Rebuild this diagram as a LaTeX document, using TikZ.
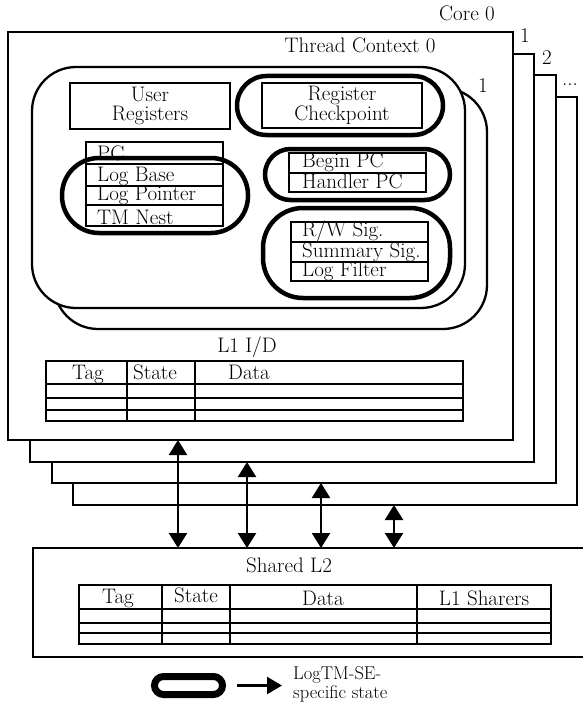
\documentclass[tikz,border=0pt]{standalone}
\usetikzlibrary{arrows.meta}
\begin{document}
\begin{tikzpicture}[x=1pt,y=-1pt,
  font=\fontsize{21}{18}\selectfont,
  frame/.style={draw, line width=2.3pt, fill=white, inner sep=0pt, outer sep=0pt, anchor=north west},
  tcbox/.style={frame, rounded corners=44pt},
  box/.style={draw, line width=2.3pt, inner sep=0pt, outer sep=0pt, anchor=north west, align=center},
  twoline/.style={font=\fontsize{21}{19.5}\selectfont},
  pill/.style={draw, line width=4.5pt, inner sep=0pt, outer sep=0pt, anchor=north west},
  lbl/.style={inner sep=0pt, anchor=base},
  lbll/.style={inner sep=0pt, anchor=base west},
  bus/.style={line width=2.3pt, {Triangle[width=18pt,length=15pt]}-{Triangle[width=18pt,length=15pt]}},
  gridthick/.style={line width=2.3pt},
  gridthin/.style={line width=1.6pt}
]
\useasboundingbox (0,0) rectangle (582,706);
\fill[white] (0,0) rectangle (582,706);

% core frames
\node[frame, minimum width=504pt, minimum height=408pt] (core3) at (73,97) {};
\node[frame, minimum width=504pt, minimum height=408pt] (core2) at (52,75) {};
\node[frame, minimum width=504pt, minimum height=408pt] (core1) at (30,54) {};
\node[frame, minimum width=505pt, minimum height=408pt] (core0) at (8,32) {};
\node[lbl] (core0lbl) at (467,21) {Core 0};
\node[lbl] (core1lbl) at (525,43) {1};
\node[lbl] (core2lbl) at (547,65) {2};
\node[lbl] (core3lbl) at (570,86) {...};

% thread contexts
\node[tcbox, minimum width=433pt, minimum height=241pt] (tc1) at (54,88) {};
\node[tcbox, minimum width=433pt, minimum height=241pt] (tc0) at (32,67) {};
\node[lbl] (tc0lbl) at (360,53) {Thread Context 0};
\node[lbl] (tc1lbl) at (483,93) {1};

% user registers and checkpoint
\node[box, twoline, minimum width=160pt, minimum height=46pt] (ur) at (70,83) {User\\Registers};
\node[box, twoline, minimum width=160pt, minimum height=45pt] (rc) at (262,83) {Register\\Checkpoint};
\node[pill, minimum width=206pt, minimum height=59pt, rounded corners=29.5pt] (rcpill) at (237,76) {};

% PC stack
\node[box, minimum width=137pt, minimum height=22pt] (pc) at (86,142) {};
\node[box, minimum width=137pt, minimum height=22pt] (lb) at (86,164) {};
\node[box, minimum width=137pt, minimum height=19pt] (lp) at (86,186) {};
\node[box, minimum width=137pt, minimum height=21pt] (tm) at (86,205) {};
\node[lbll] (pct) at (97,160) {PC};
\node[lbll] (lbt) at (97,181) {Log Base};
\node[lbll] (lpt) at (97,200) {Log Pointer};
\node[lbll] (tmt) at (97,224) {TM Nest};
\node[pill, minimum width=186pt, minimum height=75pt, rounded corners=37pt] (lbpill) at (62,158) {};

% Begin / Handler PC
\node[box, minimum width=137pt, minimum height=20pt] (bpc) at (289,153) {};
\node[box, minimum width=137pt, minimum height=19pt] (hpc) at (289,173) {};
\node[lbll] (bpct) at (302,167) {Begin PC};
\node[lbll] (hpct) at (302,188) {Handler PC};
\node[pill, minimum width=185pt, minimum height=51pt, rounded corners=25.5pt] (bpcpill) at (265,149) {};

% signatures
\node[box, minimum width=137pt, minimum height=20pt] (rw) at (291,222) {};
\node[box, minimum width=137pt, minimum height=20pt] (ss) at (291,242) {};
\node[box, minimum width=137pt, minimum height=19pt] (lf) at (291,262) {};
\node[lbll] (rwt) at (302,236) {R/W Sig.};
\node[lbll] (sst) at (302,257) {Summary Sig.};
\node[lbll] (lft) at (302,276) {Log Filter};
\node[pill, minimum width=187pt, minimum height=90pt, rounded corners=40pt] (rwpill) at (263,208) {};

% L1 cache
\node[lbl] (l1lbl) at (247,352) {L1 I/D};
\node[box, minimum width=417pt, minimum height=60pt] (l1tab) at (46,361) {};
\draw[gridthick] (46,384) -- (463,384);
\draw[gridthin] (46,398) -- (463,398) (46,410) -- (463,410);
\draw[gridthick] (127,361) -- (127,421) (195,361) -- (195,421);
\node[lbl] (l1tag) at (88,379) {Tag};
\node[lbl] (l1state) at (155,379) {State};
\node[lbl] (l1data) at (249,379) {Data};

% shared L2
\node[box, minimum width=560pt, minimum height=109pt] (l2) at (33,548) {};
\node[lbl] (l2lbl) at (289,572) {Shared L2};
\node[box, minimum width=472pt, minimum height=59pt] (l2tab) at (79,585) {};
\draw[gridthick] (79,609) -- (551,609);
\draw[gridthin] (79,623) -- (551,623) (79,633) -- (551,633);
\draw[gridthick] (162,585) -- (162,644) (230,585) -- (230,644) (417,585) -- (417,644);
\node[lbl] (l2tag) at (118,603) {Tag};
\node[lbl] (l2state) at (196,602) {State};
\node[lbl] (l2data) at (323,605) {Data};
\node[lbl] (l2sh) at (484,605) {L1 Sharers};

% buses
\coordinate (b0) at (178,0);
\coordinate (b1) at (247,0);
\coordinate (b2) at (321,0);
\coordinate (b3) at (394,0);
\draw[bus] (core0.south -| b0) -- (l2.north -| b0);
\draw[bus] (core1.south -| b1) -- (l2.north -| b1);
\draw[bus] (core2.south -| b2) -- (l2.north -| b2);
\draw[bus] (core3.south -| b3) -- (l2.north -| b3);

% legend
\node[draw, line width=7pt, inner sep=0pt, outer sep=0pt, anchor=north west, minimum width=68pt, minimum height=18pt, rounded corners=9pt] (legpill) at (154.5,676.5) {};
\node[lbll, font=\fontsize{18.5}{17}\selectfont] (lega) at (293,679) {LogTM-SE-};
\node[lbll, font=\fontsize{18.5}{17}\selectfont] (legb) at (293,698) {specific state};
\draw[line width=2.3pt, -{Triangle[width=17pt,length=15pt]}, shorten <=14.5pt, shorten >=11pt] (legpill.east) -- (legpill.east -| lega.west);
\end{tikzpicture}
\end{document}
